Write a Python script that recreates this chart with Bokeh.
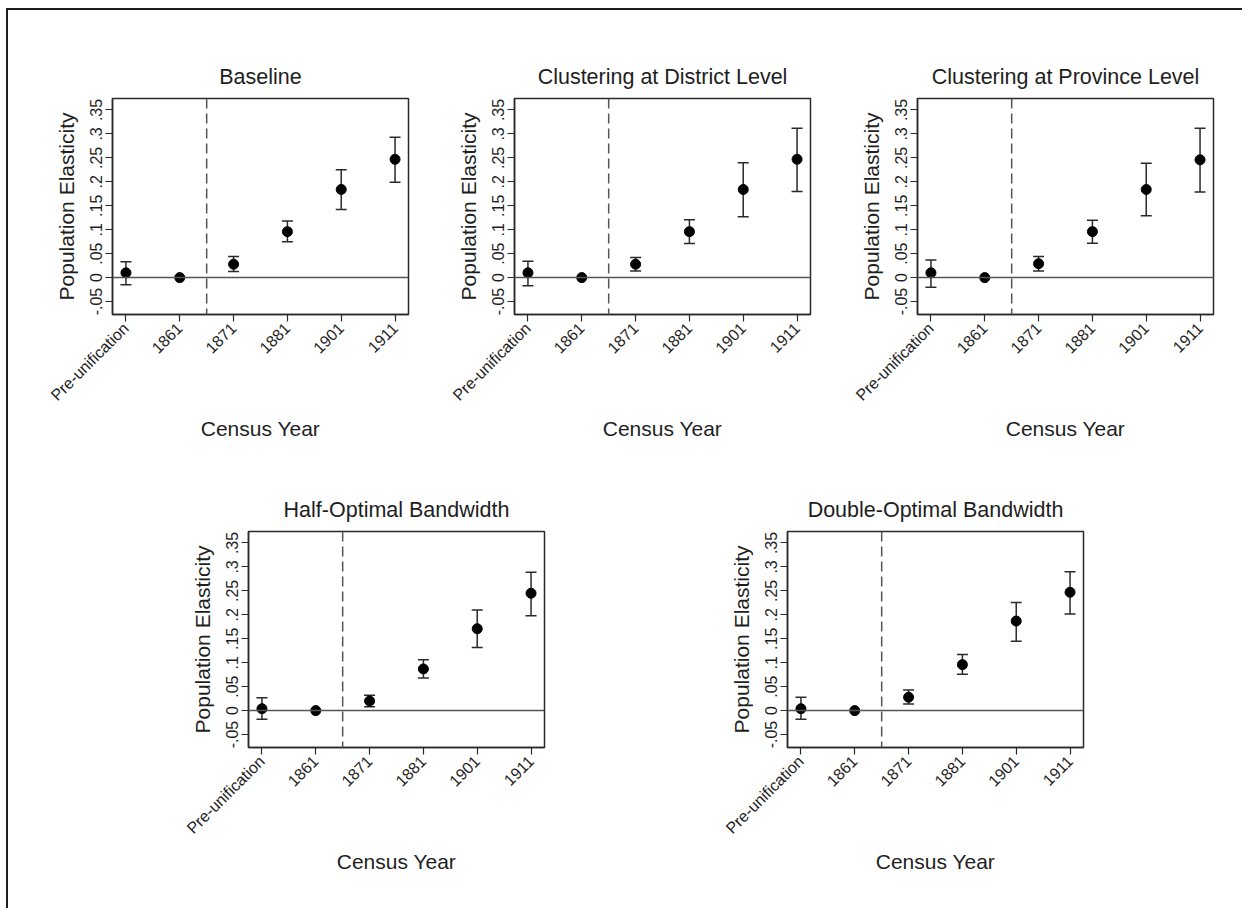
import math
from bokeh.plotting import figure
from bokeh.models import (ColumnDataSource, Whisker, TeeHead, Span, FixedTicker,
                          Range1d, Spacer, Div)
from bokeh.layouts import row, column
from bokeh.embed import file_html
from bokeh.resources import INLINE

# ---------------- data ----------------
categories = ["Pre-unification", "1861", "1871", "1881", "1901", "1911"]
panel_titles = ["Baseline", "Clustering at District Level", "Clustering at Province Level",
                "Half-Optimal Bandwidth", "Double-Optimal Bandwidth"]

baseline_est = [0.010, 0.0, 0.028, 0.096, 0.184, 0.247]
baseline_lo = [-0.015, 0.0, 0.013, 0.075, 0.142, 0.199]
baseline_hi = [0.033, 0.0, 0.044, 0.118, 0.225, 0.293]

district_est = [0.010, 0.0, 0.028, 0.096, 0.184, 0.247]
district_lo = [-0.017, 0.0, 0.014, 0.071, 0.127, 0.180]
district_hi = [0.034, 0.0, 0.042, 0.121, 0.240, 0.312]

province_est = [0.010, 0.0, 0.029, 0.096, 0.184, 0.246]
province_lo = [-0.020, 0.0, 0.014, 0.072, 0.129, 0.179]
province_hi = [0.037, 0.0, 0.044, 0.120, 0.239, 0.312]

half_est = [0.004, 0.0, 0.020, 0.087, 0.171, 0.245]
half_lo = [-0.018, 0.0, 0.008, 0.068, 0.132, 0.198]
half_hi = [0.027, 0.0, 0.032, 0.106, 0.210, 0.289]

double_est = [0.004, 0.0, 0.028, 0.096, 0.187, 0.247]
double_lo = [-0.018, 0.0, 0.014, 0.076, 0.145, 0.202]
double_hi = [0.028, 0.0, 0.043, 0.117, 0.226, 0.290]

y_ticks = [-0.05, 0, 0.05, 0.1, 0.15, 0.2, 0.25, 0.3, 0.35]
y_tick_labels = ["-.05", "0", ".05", ".1", ".15", ".2", ".25", ".3", ".35"]
cutoff = 2.5  # unification line between 1861 and 1871

FONT = "Liberation Sans"
TXT = "#1e1e1e"
LINE = "#2a2a2a"


def make_panel(title, est, lo, hi, title_offset=0):
    xs = list(range(1, len(categories) + 1))
    p = figure(width=388, height=406,
               x_range=Range1d(0.75, 6.25), y_range=Range1d(-0.077, 0.374),
               min_border_left=80, min_border_right=12,
               min_border_top=60, min_border_bottom=130,
               output_backend="svg", toolbar_location=None, title=title)
    p.background_fill_color = "white"
    p.border_fill_color = "white"
    p.outline_line_color = LINE
    p.outline_line_width = 1.5
    p.grid.visible = False

    p.title.text_font = FONT
    p.title.text_font_size = "21.5px"
    p.title.text_font_style = "normal"
    p.title.text_color = TXT
    p.title.align = "center"
    p.title.standoff = 19
    p.title.offset = title_offset

    # zero line and unification line
    p.add_layout(Span(location=0, dimension="width", line_color="#555555", line_width=1.5))
    p.add_layout(Span(location=cutoff, dimension="height", line_color="#555555",
                      line_width=1.5, line_dash="10 5"))

    # confidence intervals
    wx, wl, wh = [], [], []
    for x, l, h in zip(xs, lo, hi):
        if h != l:
            wx.append(x); wl.append(l); wh.append(h)
    wsrc = ColumnDataSource(dict(x=wx, lower=wl, upper=wh))
    w = Whisker(base="x", lower="lower", upper="upper", source=wsrc,
                line_color=LINE, line_width=1.5,
                upper_head=TeeHead(size=11, line_color=LINE, line_width=1.5),
                lower_head=TeeHead(size=11, line_color=LINE, line_width=1.5))
    p.add_layout(w)

    p.scatter(xs, est, size=10, color="black")

    # x axis
    xa = p.xaxis[0]
    xa.ticker = FixedTicker(ticks=xs)
    xa.major_label_overrides = {x: c for x, c in zip(xs, categories)}
    xa.major_label_orientation = math.pi / 4
    xa.minor_tick_line_color = None
    xa.major_tick_out = 7
    xa.major_tick_in = 0
    xa.major_tick_line_color = LINE
    xa.major_tick_line_width = 1.2
    xa.axis_line_color = LINE
    xa.axis_line_width = 1.5
    xa.major_label_text_font = FONT
    xa.major_label_text_font_size = "16px"
    xa.major_label_text_color = TXT
    xa.major_label_standoff = 4
    xa.axis_label = "Census Year"
    xa.axis_label_text_font = FONT
    xa.axis_label_text_font_size = "21px"
    xa.axis_label_text_font_style = "normal"
    xa.axis_label_text_color = TXT
    xa.axis_label_standoff = 4

    # y axis
    ya = p.yaxis[0]
    ya.ticker = FixedTicker(ticks=y_ticks)
    ya.major_label_overrides = {t: s for t, s in zip(y_ticks, y_tick_labels)}
    ya.major_label_orientation = "vertical"
    ya.minor_tick_line_color = None
    ya.major_tick_out = 7
    ya.major_tick_in = 0
    ya.major_tick_line_color = LINE
    ya.major_tick_line_width = 1.2
    ya.axis_line_color = LINE
    ya.axis_line_width = 1.5
    ya.major_label_text_font = FONT
    ya.major_label_text_font_size = "16px"
    ya.major_label_text_color = TXT
    ya.major_label_standoff = 3
    ya.axis_label = "Population Elasticity"
    ya.axis_label_text_font = FONT
    ya.axis_label_text_font_size = "21px"
    ya.axis_label_text_font_style = "normal"
    ya.axis_label_text_color = TXT
    ya.axis_label_standoff = 10
    return p


p1 = make_panel(panel_titles[0], baseline_est, baseline_lo, baseline_hi, -12)
p2 = make_panel(panel_titles[1], district_est, district_lo, district_hi, 0)
p3 = make_panel(panel_titles[2], province_est, province_lo, province_hi, -5)
p4 = make_panel(panel_titles[3], half_est, half_lo, half_hi, -5)
p5 = make_panel(panel_titles[4], double_est, double_lo, double_hi, -5)

row1 = row(Spacer(width=24), p1, Spacer(width=14), p2, Spacer(width=15), p3)
row2 = row(Spacer(width=160), p4, Spacer(width=151), p5)
content = column(Spacer(height=28), row1, Spacer(height=27), row2)

top_line = Div(text="", width=1236, height=2, margin=(0, 0, 0, 0),
               styles={"background-color": "#1e1e1e"})
left_line = Div(text="", width=2, height=898, margin=(0, 0, 0, 0),
                styles={"background-color": "#1e1e1e"})

root = column(Spacer(height=8),
              row(Spacer(width=6), column(top_line, row(left_line, content))))

open("out.html", "w").write(file_html(root, INLINE))
